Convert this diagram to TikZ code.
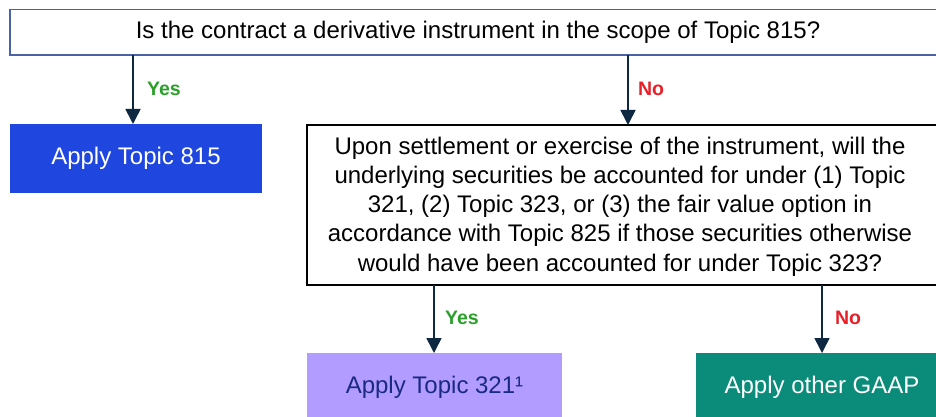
\documentclass[tikz,border=0pt]{standalone}
\usepackage{fontspec}
\setmainfont{Liberation Sans}
\usetikzlibrary{arrows.meta}
\definecolor{navy}{HTML}{0E2841}
\definecolor{boxblue}{HTML}{1F47E0}
\definecolor{lilac}{HTML}{B39CFF}
\definecolor{teal}{HTML}{0B8C7A}
\definecolor{darkblue}{HTML}{1A2A80}
\definecolor{yesgreen}{HTML}{2AA02A}
\definecolor{nored}{HTML}{E8202A}
\definecolor{rimblue}{HTML}{4A62A8}
\begin{document}
\begin{tikzpicture}[x=1pt,y=-1pt,
  txt/.style={font=\fontsize{24}{29.2}\selectfont},
  flow/.style={draw=navy,line width=1.6pt,-{Triangle[width=15pt,length=15pt]}},
  yeslbl/.style={font=\fontsize{19.5}{22}\selectfont\bfseries,text=yesgreen},
  nolbl/.style={font=\fontsize{19.5}{22}\selectfont\bfseries,text=nored}]
\useasboundingbox (0,0) rectangle (936,417);
\fill[white] (0,0) rectangle (936,417);

% question boxes (their right edges run off the page)
\draw[rimblue,line width=1.2pt] (950,9.5) -- (10,9.5) -- (10,55) -- (950,55);
\node[txt,anchor=center] (q1) at (478,32) {Is the contract a derivative instrument in the scope of Topic 815?};
\draw[black,line width=1.3pt] (950,125) -- (307,125) -- (307,285) -- (950,285);
\node[txt,align=center,anchor=center] (q2) at (620,206.5)
  {Upon settlement or exercise of the instrument, will the\\
   underlying securities be accounted for under (1) Topic\\
   321, (2) Topic 323, or (3) the fair value option in\\
   accordance with Topic 825 if those securities otherwise\\
   would have been accounted for under Topic 323?};

% outcome boxes
\fill[boxblue] (10,124) rectangle (262,193);
\node[txt,text=white] (a815) at (136,158.5) {Apply Topic 815};
\fill[lilac] (307,353) rectangle (562,430);
\node[txt,text=darkblue] (a321) at (434.5,387) {Apply Topic 321¹};
\fill[teal] (696,353) rectangle (950,430);
\node[txt,text=white] (agaap) at (822,387) {Apply other GAAP};

% connectors
\coordinate (s1) at (133,55);  \coordinate (e1) at (133,124);
\coordinate (s2) at (628,55);  \coordinate (e2) at (628,125);
\coordinate (s3) at (434,285); \coordinate (e3) at (434,353);
\coordinate (s4) at (822,285); \coordinate (e4) at (822,353);
\draw[flow] (s1) -- (e1);
\draw[flow] (s2) -- (e2);
\draw[flow] (s3) -- (e3);
\draw[flow] (s4) -- (e4);

\node[yeslbl] (y1) at (164,89) {Yes};
\node[nolbl] (n1) at (651,89) {No};
\node[yeslbl] (y2) at (462,318) {Yes};
\node[nolbl] (n2) at (848,318) {No};
\end{tikzpicture}
\end{document}
